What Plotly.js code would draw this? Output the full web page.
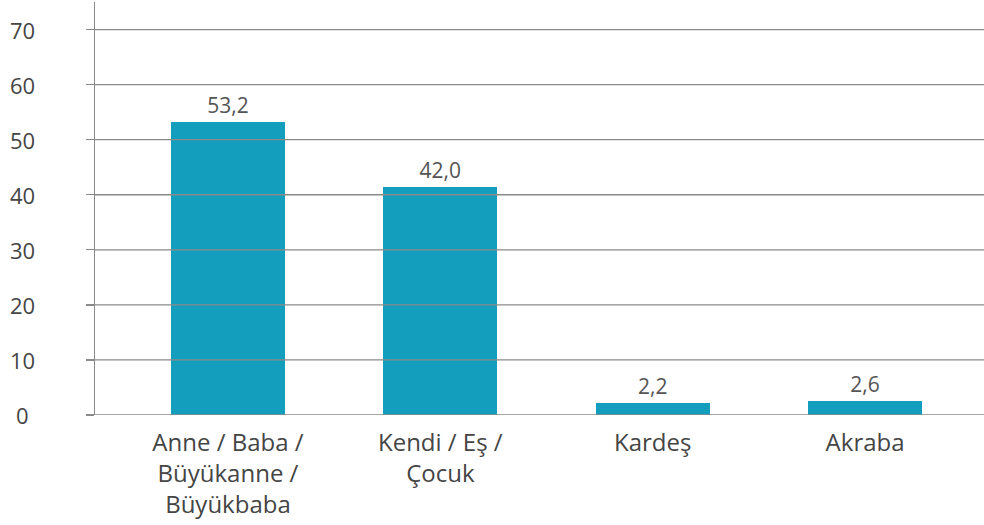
<!DOCTYPE html>
<html>
<head>
<meta charset="utf-8">
<script src="https://cdn.plot.ly/plotly-3.0.1.min.js"></script>
<style>html,body{margin:0;padding:0;background:#fff;}#chart{width:984px;height:525px;}</style>
</head>
<body>
<div id="chart"></div>
<script>
var categories = ["Anne / Baba /<br>Büyükanne /<br>Büyükbaba", "Kendi / Eş /<br>Çocuk", "Kardeş", "Akraba"];
var values = [53.2, 41.4, 2.2, 2.6];
var valueLabels = ["53,2", "42,0", "2,2", "2,6"];
var yTicks = [0, 10, 20, 30, 40, 50, 60, 70];
var yTickLabels = ["0", "10", "20", "30", "40", "50", "60", "70"];

var textColor = "#454545";
var labelColor = "#555555";
var gridColor = "#8a8a8a";

var trace = {
  type: "bar",
  x: [0, 1, 2, 3],
  y: values,
  width: 0.537,
  marker: {color: "#149ebd"},
  text: valueLabels,
  textposition: "outside",
  textfont: {family: "Open Sans", size: 21, color: labelColor},
  cliponaxis: false,
  hoverinfo: "none"
};

var shapes = yTicks.map(function (v) {
  return {type: "line", xref: "paper", x0: 0, x1: 1, yref: "y", y0: v, y1: v,
          layer: "above", line: {color: gridColor, width: 1.3}};
});

var annotations = yTicks.map(function (v, i) {
  return {xref: "paper", x: -0.081, xanchor: "center", yref: "y", y: v, yanchor: "middle",
          text: yTickLabels[i], showarrow: false,
          font: {family: "Open Sans", size: 22, color: textColor}};
});

var layout = {
  width: 984, height: 525,
  margin: {l: 95, r: 0, t: 2, b: 110},
  paper_bgcolor: "#fff", plot_bgcolor: "#fff",
  showlegend: false,
  bargap: 0,
  xaxis: {
    range: [-0.626, 3.56],
    tickvals: [0, 1, 2, 3],
    ticktext: categories,
    ticks: "",
    ticklabelstandoff: 11,
    showgrid: false,
    zeroline: false,
    showline: false,
    tickfont: {family: "Open Sans", size: 24, color: textColor}
  },
  yaxis: {
    range: [0, 75],
    tickvals: yTicks,
    showticklabels: false,
    ticks: "outside",
    ticklen: 8,
    tickcolor: gridColor,
    tickwidth: 1.3,
    showgrid: false,
    zeroline: false,
    showline: true,
    linecolor: gridColor,
    linewidth: 1.3
  },
  shapes: shapes,
  annotations: annotations
};

Plotly.newPlot("chart", [trace], layout, {displayModeBar: false, staticPlot: true});
</script>
</body>
</html>
